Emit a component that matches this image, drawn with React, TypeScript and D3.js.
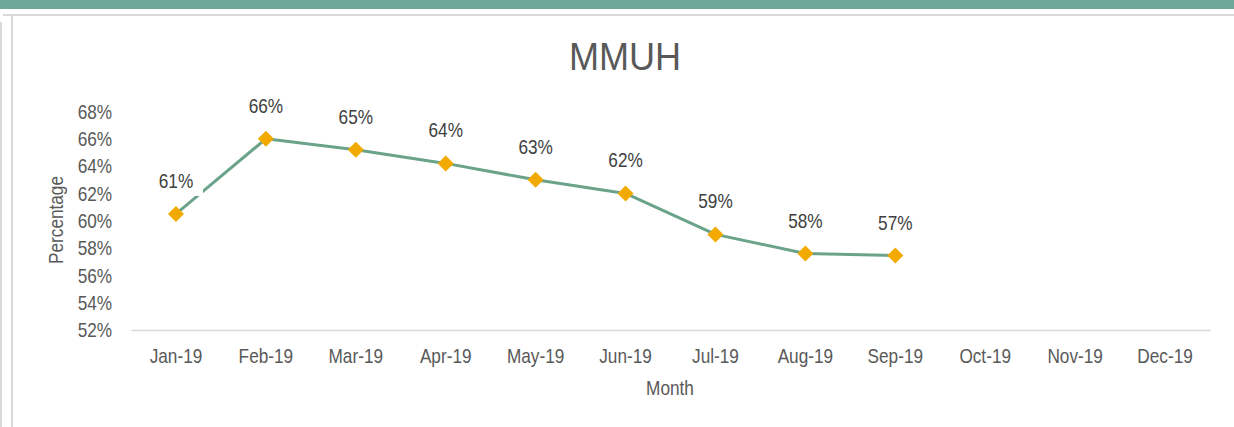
import React, { useEffect, useRef } from 'react';
import * as d3 from 'd3';

const months = ['Jan-19', 'Feb-19', 'Mar-19', 'Apr-19', 'May-19', 'Jun-19', 'Jul-19', 'Aug-19', 'Sep-19', 'Oct-19', 'Nov-19', 'Dec-19'];
const values = [0.605, 0.660, 0.652, 0.642, 0.630, 0.620, 0.590, 0.576, 0.5745];
const yTicks = [0.52, 0.54, 0.56, 0.58, 0.60, 0.62, 0.64, 0.66, 0.68];
const chartTitle = 'MMUH';
const xTitle = 'Month';
const yTitle = 'Percentage';

const W = 1234;
const H = 427;
const FONT = '"Liberation Sans", Arial, sans-serif';
const NARROW = 0.82; // text in the picture is a condensed face

const App = () => {
  const svgRef = useRef<SVGSVGElement>(null);

  useEffect(() => {
    document.body.style.margin = '0';
    const svg = d3.select(svgRef.current);
    svg.selectAll('*').remove();

    const margin = { top: 111.5, right: 24, bottom: 97, left: 131 };

    // page frame
    svg.append('rect').attr('width', W).attr('height', H).attr('fill', '#fff');
    svg.append('rect').attr('x', 0).attr('y', 0).attr('width', W).attr('height', 9).attr('fill', '#70a79b');
    svg.append('line').attr('x1', 3).attr('x2', W).attr('y1', 15).attr('y2', 15).attr('stroke', '#d9d9d9').attr('stroke-width', 2);
    svg.append('line').attr('x1', 12).attr('x2', 12).attr('y1', 14).attr('y2', H).attr('stroke', '#d9d9d9').attr('stroke-width', 2);
    svg.append('line').attr('x1', 1).attr('x2', 1).attr('y1', 22).attr('y2', H).attr('stroke', '#d9d9d9').attr('stroke-width', 2);

    const x = d3.scaleBand().domain(months).range([margin.left, W - margin.right]);
    const y = d3.scaleLinear().domain([0.52, 0.68]).range([H - margin.bottom, margin.top]);
    const fmt = d3.format('.0%');

    // title
    svg.append('text')
      .attr('transform', `translate(625,70) scale(0.95,1)`)
      .attr('text-anchor', 'middle')
      .style('font-family', FONT)
      .style('font-size', '38px')
      .attr('fill', '#595959')
      .text(chartTitle);

    // x axis
    const xAxis = svg.append('g')
      .attr('transform', `translate(0,${H - margin.bottom})`)
      .call(d3.axisBottom(x).tickSize(0).tickSizeOuter(0).tickPadding(18));
    xAxis.select('.domain').attr('stroke', '#d9d9d9').attr('stroke-width', 1.5);
    xAxis.selectAll('text')
      .attr('transform', `scale(${NARROW},1)`)
      .style('font-family', FONT)
      .style('font-size', '21px')
      .attr('fill', '#595959');

    // y axis
    const yAxis = svg.append('g')
      .attr('transform', `translate(${margin.left},0)`)
      .call(d3.axisLeft(y).tickValues(yTicks).tickSize(0).tickPadding(23).tickFormat(fmt));
    yAxis.select('.domain').remove();
    yAxis.selectAll('text')
      .attr('transform', `scale(${NARROW},1)`)
      .style('font-family', FONT)
      .style('font-size', '21px')
      .attr('fill', '#595959');

    // axis titles
    svg.append('text')
      .attr('transform', `translate(670,395) scale(${NARROW},1)`)
      .attr('text-anchor', 'middle')
      .style('font-family', FONT)
      .style('font-size', '21px')
      .attr('fill', '#595959')
      .text(xTitle);
    svg.append('text')
      .attr('transform', `translate(63,220) rotate(-90) scale(${NARROW},1)`)
      .attr('text-anchor', 'middle')
      .style('font-family', FONT)
      .style('font-size', '21px')
      .attr('fill', '#595959')
      .text(yTitle);

    const cx = (i: number) => (x(months[i]) as number) + x.bandwidth() / 2;

    // series line
    const line = d3.line<number>().x((d, i) => cx(i)).y(d => y(d));
    svg.append('path')
      .datum(values)
      .attr('d', line)
      .attr('fill', 'none')
      .attr('stroke', '#6ba38a')
      .attr('stroke-width', 3)
      .attr('stroke-linejoin', 'round');

    // data labels (white boxes sit over the line like Excel's)
    const labels = svg.append('g');
    values.forEach((v, i) => {
      const base = y(v) - 26;
      labels.append('rect')
        .attr('x', cx(i) - 28)
        .attr('y', base - 17)
        .attr('width', 55)
        .attr('height', 25)
        .attr('fill', '#fff');
      labels.append('text')
        .attr('transform', `translate(${cx(i)},${base}) scale(${NARROW},1)`)
        .attr('text-anchor', 'middle')
        .style('font-family', FONT)
        .style('font-size', '21px')
        .attr('fill', '#404040')
        .text(fmt(v));
    });

    // diamond markers
    svg.selectAll('.marker')
      .data(values)
      .enter()
      .append('path')
      .attr('class', 'marker')
      .attr('d', d3.symbol(d3.symbolSquare, 128)())
      .attr('transform', (d, i) => `translate(${cx(i)},${y(d)}) rotate(45)`)
      .attr('fill', '#f2a900');
  }, []);

  return <svg ref={svgRef} width={W} height={H} style={{ display: 'block' }} />;
};

export default App;
